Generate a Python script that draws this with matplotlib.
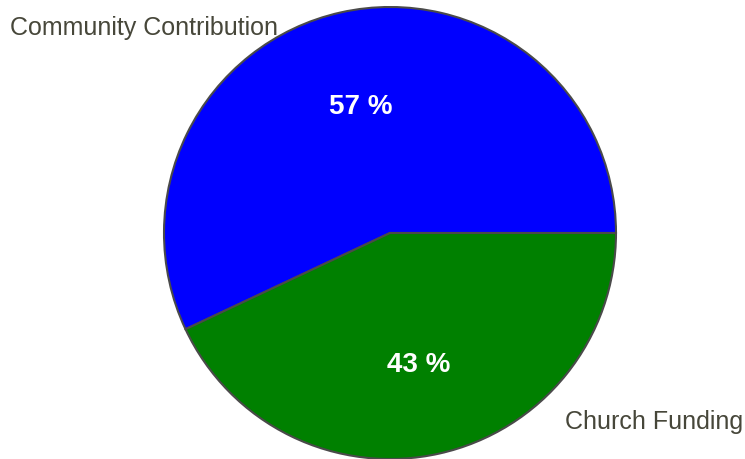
import math
import matplotlib
matplotlib.use("Agg")
import matplotlib.pyplot as plt

categories = ["Community Contribution", "Church Funding"]
values = [57, 43]
colors = ["#0000ff", "#008000"]

W, H, DPI = 745, 459, 100
plt.rcParams["font.family"] = ["Liberation Sans", "DejaVu Sans"]
fig = plt.figure(figsize=(W / DPI, H / DPI), dpi=DPI)

cx, cy, r = 390, 233, 226
ax = fig.add_axes([(cx - r) / W, (H - cy - r) / H, 2 * r / W, 2 * r / H])

wedges, texts = ax.pie(
    values, colors=colors, startangle=0, counterclock=True, radius=1,
    wedgeprops=dict(edgecolor="#4a4a4a", linewidth=1.5),
    frame=True,
)
ax.axis("off")
ax.set_xlim(-1.0, 1.0)
ax.set_ylim(-1.0, 1.0)
for w in wedges:
    w.set_clip_on(False)

# percentage labels at the middle of each wedge
total = sum(values)
start = 0.0
for v in values:
    mid = math.radians(start + 360 * v / total / 2)
    ax.text(0.585 * math.cos(mid), 0.585 * math.sin(mid) - 0.012, f"{v} %",
            ha="center", va="center", color="white", fontsize=20,
            fontweight="bold", clip_on=False)
    start += 360 * v / total

label_color = "#47473a"
ax.text(-0.495, 0.905, categories[0], ha="right", va="center",
        fontsize=18, color=label_color, clip_on=False)
ax.text(0.775, -0.838, categories[1], ha="left", va="center",
        fontsize=18, color=label_color, clip_on=False)

fig.savefig("out.png", dpi=DPI)
